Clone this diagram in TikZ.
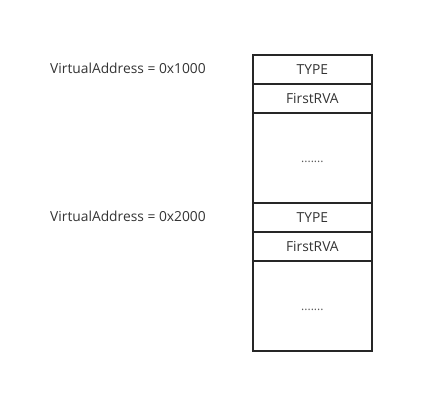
\documentclass[tikz,border=0pt]{standalone}
\usepackage{fontspec}
\setmainfont{Open Sans}
\begin{document}
\begin{tikzpicture}[x=1pt,y=-1pt,
  cell/.style={draw=black!85,line width=1.7pt,minimum width=119pt,anchor=north west,inner sep=0pt},
  lbl/.style={font=\fontsize{13.8}{15}\selectfont,text=black!80,inner sep=0pt},
  dots/.style={font=\fontsize{12}{14}\selectfont,text=black!65,inner sep=0pt,anchor=base}]
\useasboundingbox (0,0) rectangle (433,411);
\node[cell,minimum height=29pt] (t1) at (252,54) {};
\node[cell,minimum height=29pt] (f1) at (252,83) {};
\node[cell,minimum height=90pt] (b1) at (252,112) {};
\node[cell,minimum height=29pt] (t2) at (252,202) {};
\node[cell,minimum height=29pt] (f2) at (252,231) {};
\node[cell,minimum height=90pt] (b2) at (252,260) {};
\node[lbl] at (t1.center) {TYPE};
\node[lbl] at (f1.center) {FirstRVA};
\node[dots] at ([yshift=-5pt]b1.center) {.......};
\node[lbl] at (t2.center) {TYPE};
\node[lbl] at (f2.center) {FirstRVA};
\node[dots] at ([yshift=-5pt]b2.center) {.......};
\node[lbl,anchor=west] (v1) at (50,68) {VirtualAddress = 0x1000};
\node[lbl,anchor=west] (v2) at (50,216) {VirtualAddress = 0x2000};
\end{tikzpicture}
\end{document}
